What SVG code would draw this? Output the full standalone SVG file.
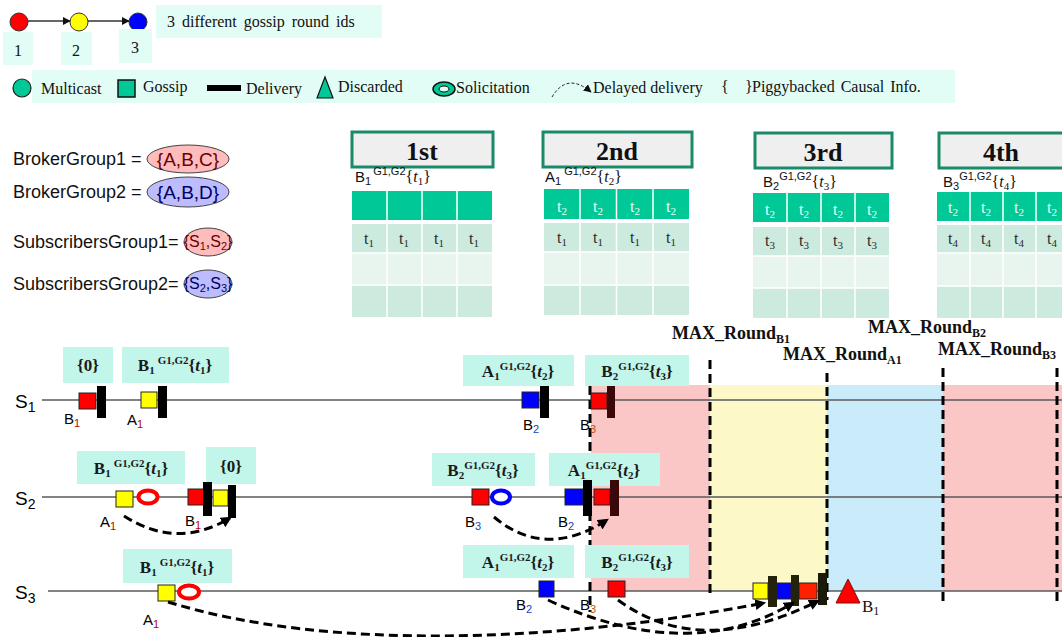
<svg xmlns="http://www.w3.org/2000/svg" width="1062" height="637" viewBox="0 0 1062 637">
<defs>
  <marker id="ah" viewBox="0 0 10 10" refX="8" refY="5" markerWidth="11" markerHeight="11" markerUnits="userSpaceOnUse" orient="auto">
    <path d="M0,0 L10,5 L0,10 z" fill="#000"/>
  </marker>
  <marker id="ahs" viewBox="0 0 10 10" refX="9" refY="5" markerWidth="8" markerHeight="8" markerUnits="userSpaceOnUse" orient="auto">
    <path d="M0,0 L10,5 L0,10 z" fill="#111"/>
  </marker>
</defs>
<style>
  .serif{font-family:"Liberation Serif","Times New Roman",serif}
  .sans{font-family:"Liberation Sans",Arial,sans-serif}
  .lgbox{fill:#e2fcf6}
  .box{fill:#c2f6ea}
  .lgt{font-family:"Liberation Serif","Times New Roman",serif;font-size:16px;fill:#111}
  .lbl{font-family:"Liberation Serif","Times New Roman",serif;font-size:17px;font-weight:bold;fill:#1a1a1a}
  .lbl .s{font-size:11px}
  .lbl .i{font-style:italic}
  .ev{font-family:"Liberation Sans",Arial,sans-serif;font-size:15px;fill:#000}
  .ev .s{font-size:11px}
  .sq{stroke:#222;stroke-width:1}
  .bar{fill:#000}
  .tl{stroke:#5a5a5a;stroke-width:1.6}
  .vline{stroke:#000;stroke-width:3;stroke-dasharray:9 5;fill:none}
  .curve{stroke:#000;stroke-width:3;stroke-dasharray:9 5;fill:none;marker-end:url(#ah)}
  .hdr{fill:#efefef;stroke:#1b8a6b;stroke-width:3}
  .hdrt{font-family:"Liberation Serif","Times New Roman",serif;font-size:26px;font-weight:bold;fill:#111;text-anchor:middle}
  .sub{font-family:"Liberation Sans",Arial,sans-serif;font-size:15px;fill:#111}
  .sub .s{font-size:11px}
  .sub .b{font-family:"Liberation Serif","Times New Roman",serif;font-size:16px}
  .g{fill:#00c997}
  .r2{fill:#cdeadf}
  .r3{fill:#e8f5ef}
  .cellw{font-family:"Liberation Serif","Times New Roman",serif;font-size:16px;fill:#e8fff8;text-anchor:middle}
  .celld{font-family:"Liberation Serif","Times New Roman",serif;font-size:16px;fill:#2a2a2a;text-anchor:middle}
  .sep{stroke:#fff;stroke-width:1.5}
  .grp{font-family:"Liberation Sans",Arial,sans-serif;font-size:18px;fill:#111}
  .set{font-family:"Liberation Sans",Arial,sans-serif;text-anchor:middle}
  .max{font-family:"Liberation Serif","Times New Roman",serif;font-size:18px;font-weight:bold;fill:#111}
  .max .s{font-size:12px}
</style>

<!-- round id legend -->
<g id="round-ids">
  <line x1="28" y1="21" x2="70" y2="21" stroke="#333" stroke-width="1.5" marker-end="url(#ahs)"/>
  <line x1="88" y1="21" x2="129" y2="21" stroke="#333" stroke-width="1.5" marker-end="url(#ahs)"/>
  <circle cx="19" cy="22" r="9" fill="#ff0000" stroke="#333" stroke-width="1"/>
  <circle cx="79" cy="22" r="9" fill="#ffff00" stroke="#333" stroke-width="1"/>
  <circle cx="138" cy="22" r="9" fill="#0000ff" stroke="#333" stroke-width="1"/>
  <rect x="3" y="32" width="30" height="33" class="lgbox"/>
  <rect x="61" y="32" width="31" height="33" class="lgbox"/>
  <rect x="119" y="29" width="33" height="34" class="lgbox"/>
  <text x="18" y="56" class="lgt" font-size="18" text-anchor="middle">1</text>
  <text x="76" y="56" class="lgt" font-size="18" text-anchor="middle">2</text>
  <text x="135" y="53" class="lgt" font-size="18" text-anchor="middle">3</text>
  <rect x="156" y="5" width="226" height="33" class="lgbox"/>
  <text x="167" y="27" class="lgt" font-size="17" word-spacing="3">3 different gossip round ids</text>
</g>

<!-- symbol legend -->
<g id="legend">
  <rect x="32" y="70" width="923" height="33" class="lgbox"/>
  <circle cx="22" cy="88" r="9" fill="#00c997" stroke="#222" stroke-width="1.2"/>
  <text x="41" y="94" class="lgt">Multicast</text>
  <rect x="118" y="80" width="17" height="17" fill="#00c997" stroke="#111" stroke-width="1.5"/>
  <text x="143" y="92" class="lgt">Gossip</text>
  <rect x="207" y="85" width="34" height="6" fill="#000"/>
  <text x="246" y="94" class="lgt">Delivery</text>
  <polygon points="317,98 325,77 333,98" fill="#00c997" stroke="#111" stroke-width="1.2"/>
  <text x="338" y="92" class="lgt">Discarded</text>
  <ellipse cx="444" cy="89" rx="11" ry="7" fill="#00c997" stroke="#111" stroke-width="1.5"/>
  <ellipse cx="444" cy="89" rx="5" ry="3" fill="#e2fcf6" stroke="#111" stroke-width="1"/>
  <text x="456" y="93" class="lgt">Solicitation</text>
  <path d="M552,97 Q567,72 591,92" stroke="#222" stroke-width="1" stroke-dasharray="3 2" fill="none" marker-end="url(#ahs)"/>
  <text x="593" y="93" class="lgt">Delayed delivery</text>
  <text x="721" y="92" class="lgt">{</text>
  <text x="745" y="92" class="lgt">}</text>
  <text x="752" y="92" class="lgt" word-spacing="2">Piggybacked Causal Info.</text>
</g>

<!-- groups -->
<g id="broker-group-1">
  <text x="13" y="165" class="grp">BrokerGroup1 =</text>
  <ellipse cx="188" cy="159" rx="41" ry="14" fill="#ffbcbc" stroke="#444" stroke-width="1"/>
  <text x="188" y="166" class="set" font-size="19" fill="#6a0000">{A,B,C}</text>
</g>
<g id="broker-group-2">
  <text x="13" y="198" class="grp">BrokerGroup2 =</text>
  <ellipse cx="188" cy="192" rx="41" ry="15" fill="#bcbcff" stroke="#444" stroke-width="1"/>
  <text x="188" y="199" class="set" font-size="19" fill="#000060">{A,B,D}</text>
</g>
<g id="subscribers-group-1">
  <text x="13" y="248" class="grp">SubscribersGroup1=</text>
  <ellipse cx="208" cy="242" rx="24" ry="14" fill="#ffbcbc" stroke="#444" stroke-width="1"/>
  <text x="208" y="247" class="set" font-size="16" fill="#6a0000">{S<tspan font-size="11" dy="3">1</tspan><tspan dy="-3">,S</tspan><tspan font-size="11" dy="3">2</tspan><tspan dy="-3">}</tspan></text>
</g>
<g id="subscribers-group-2">
  <text x="13" y="290" class="grp">SubscribersGroup2=</text>
  <ellipse cx="208" cy="284" rx="24" ry="14" fill="#bcbcff" stroke="#444" stroke-width="1"/>
  <text x="208" y="289" class="set" font-size="16" fill="#000060">{S<tspan font-size="11" dy="3">2</tspan><tspan dy="-3">,S</tspan><tspan font-size="11" dy="3">3</tspan><tspan dy="-3">}</tspan></text>
</g>

<!-- round tables -->
<g id="round-1st">
  <rect x="352" y="132" width="141" height="35" class="hdr"/>
  <text x="422" y="160" class="hdrt">1st</text>
  <text x="355" y="182" class="sub">B<tspan class="s" dy="3">1</tspan><tspan class="s" dy="-10" dx="2">G1,G2</tspan><tspan class="b" dy="7">{<tspan font-style="italic">t</tspan><tspan class="s" dy="3">1</tspan><tspan dy="-3">}</tspan></tspan></text>
  <rect x="352" y="191" width="140" height="29" class="g"/>
  <rect x="352" y="224" width="140" height="29" class="r2"/>
  <rect x="352" y="253" width="140" height="32" class="r3"/>
  <rect x="352" y="285" width="140" height="32" class="r2"/>
  <path d="M387,191V317M422,191V317M457,191V317M352,253H492M352,285H492" class="sep"/>
  <g class="celld"><text x="369" y="244">t<tspan font-size="11" dy="3">1</tspan></text><text x="404" y="244">t<tspan font-size="11" dy="3">1</tspan></text><text x="439" y="244">t<tspan font-size="11" dy="3">1</tspan></text><text x="474" y="244">t<tspan font-size="11" dy="3">1</tspan></text></g>
</g>
<g id="round-2nd">
  <rect x="543" y="132" width="149" height="35" class="hdr"/>
  <text x="617" y="160" class="hdrt">2nd</text>
  <text x="545" y="182" class="sub">A<tspan class="s" dy="3">1</tspan><tspan class="s" dy="-10" dx="3">G1,G2</tspan><tspan class="b" dy="7">{<tspan font-style="italic">t</tspan><tspan class="s" dy="3">2</tspan><tspan dy="-3">}</tspan></tspan></text>
  <rect x="544" y="189" width="145" height="30" class="g"/>
  <rect x="544" y="223" width="145" height="29" class="r2"/>
  <rect x="544" y="252" width="145" height="33" class="r3"/>
  <rect x="544" y="285" width="145" height="30" class="r2"/>
  <path d="M580,189V315M616.5,189V315M653,189V315M544,252H689M544,285H689" class="sep"/>
  <g class="cellw"><text x="562" y="212">t<tspan font-size="11" dy="3">2</tspan></text><text x="598" y="212">t<tspan font-size="11" dy="3">2</tspan></text><text x="635" y="212">t<tspan font-size="11" dy="3">2</tspan></text><text x="671" y="212">t<tspan font-size="11" dy="3">2</tspan></text></g>
  <g class="celld"><text x="562" y="243">t<tspan font-size="11" dy="3">1</tspan></text><text x="598" y="243">t<tspan font-size="11" dy="3">1</tspan></text><text x="635" y="243">t<tspan font-size="11" dy="3">1</tspan></text><text x="671" y="243">t<tspan font-size="11" dy="3">1</tspan></text></g>
</g>
<g id="round-3rd">
  <rect x="755" y="133" width="137" height="35" class="hdr"/>
  <text x="823" y="161" class="hdrt">3rd</text>
  <text x="763" y="187" class="sub">B<tspan class="s" dy="3">2</tspan><tspan class="s" dy="-10">G1,G2</tspan><tspan class="b" dy="7">{<tspan font-style="italic">t</tspan><tspan class="s" dy="3">3</tspan><tspan dy="-3">}</tspan></tspan></text>
  <rect x="753" y="193" width="136" height="29" class="g"/>
  <rect x="753" y="227" width="136" height="29" class="r2"/>
  <rect x="753" y="256" width="136" height="32" class="r3"/>
  <rect x="753" y="288" width="136" height="30" class="r2"/>
  <path d="M787,193V318M821,193V318M855,193V318M753,256H889M753,288H889" class="sep"/>
  <g class="cellw"><text x="770" y="215">t<tspan font-size="11" dy="3">2</tspan></text><text x="804" y="215">t<tspan font-size="11" dy="3">2</tspan></text><text x="838" y="215">t<tspan font-size="11" dy="3">2</tspan></text><text x="872" y="215">t<tspan font-size="11" dy="3">2</tspan></text></g>
  <g class="celld"><text x="770" y="246">t<tspan font-size="11" dy="3">3</tspan></text><text x="804" y="246">t<tspan font-size="11" dy="3">3</tspan></text><text x="838" y="246">t<tspan font-size="11" dy="3">3</tspan></text><text x="872" y="246">t<tspan font-size="11" dy="3">3</tspan></text></g>
</g>
<g id="round-4th">
  <rect x="939" y="133" width="130" height="35" class="hdr"/>
  <text x="1001" y="161" class="hdrt">4th</text>
  <text x="943" y="187" class="sub">B<tspan class="s" dy="3">3</tspan><tspan class="s" dy="-10">G1,G2</tspan><tspan class="b" dy="7">{<tspan font-style="italic">t</tspan><tspan class="s" dy="3">4</tspan><tspan dy="-3">}</tspan></tspan></text>
  <rect x="937" y="192" width="132" height="29" class="g"/>
  <rect x="937" y="225" width="132" height="28" class="r2"/>
  <rect x="937" y="253" width="132" height="33" class="r3"/>
  <rect x="937" y="286" width="132" height="32" class="r2"/>
  <path d="M970,192V318M1003,192V318M1036,192V318M937,253H1069M937,286H1069" class="sep"/>
  <g class="cellw"><text x="953" y="213">t<tspan font-size="11" dy="3">2</tspan></text><text x="986" y="213">t<tspan font-size="11" dy="3">2</tspan></text><text x="1019" y="213">t<tspan font-size="11" dy="3">2</tspan></text><text x="1052" y="213">t<tspan font-size="11" dy="3">2</tspan></text></g>
  <g class="celld"><text x="953" y="244">t<tspan font-size="11" dy="3">4</tspan></text><text x="986" y="244">t<tspan font-size="11" dy="3">4</tspan></text><text x="1019" y="244">t<tspan font-size="11" dy="3">4</tspan></text><text x="1052" y="244">t<tspan font-size="11" dy="3">4</tspan></text></g>
</g>

<!-- round bands -->
<g id="round-bands">
  <rect x="591" y="385" width="119" height="206" fill="#fbc6c6"/>
  <rect x="710" y="385" width="117" height="206" fill="#fcf8c8"/>
  <rect x="827" y="385" width="116" height="206" fill="#caebf9"/>
  <rect x="943" y="385" width="119" height="206" fill="#fbc6c6"/>
</g>

<!-- subscriber timelines -->
<g id="timelines">
  <line x1="42" y1="400" x2="1062" y2="400" class="tl"/>
  <line x1="42" y1="497" x2="1062" y2="497" class="tl"/>
  <line x1="48" y1="591" x2="1062" y2="591" class="tl"/>
  <text x="15" y="408" class="sans" font-size="19">S<tspan font-size="14" dy="4">1</tspan></text>
  <text x="15" y="505" class="sans" font-size="19">S<tspan font-size="14" dy="4">2</tspan></text>
  <text x="15" y="599" class="sans" font-size="19">S<tspan font-size="14" dy="4">3</tspan></text>
</g>

<!-- round limits -->
<g id="round-limits">
  <line x1="590" y1="386" x2="590" y2="612" class="vline"/>
  <line x1="710" y1="360" x2="710" y2="598" class="vline"/>
  <line x1="827" y1="373" x2="827" y2="600" class="vline"/>
  <line x1="943" y1="368" x2="943" y2="603" class="vline"/>
  <line x1="1057" y1="368" x2="1057" y2="603" class="vline"/>
  <text x="672" y="339" class="max">MAX_Round<tspan class="s" dy="4">B1</tspan></text>
  <text x="783" y="360" class="max">MAX_Round<tspan class="s" dy="4">A1</tspan></text>
  <text x="868" y="333" class="max">MAX_Round<tspan class="s" dy="4">B2</tspan></text>
  <text x="938" y="355" class="max">MAX_Round<tspan class="s" dy="4">B3</tspan></text>
</g>

<!-- S1 events -->
<g id="s1-b1">
  <rect x="63" y="347" width="50" height="36" class="box"/>
  <text x="88" y="371" class="lbl" text-anchor="middle" font-weight="normal">{0}</text>
  <rect x="79" y="393" width="17" height="16" fill="#ff0000" class="sq"/>
  <rect x="97" y="386" width="9" height="32" class="bar"/>
  <text x="64" y="424" class="ev">B<tspan class="s" dy="3" fill="#c00000">1</tspan></text>
</g>
<g id="s1-a1">
  <rect x="122" y="347" width="107" height="36" class="box"/>
  <text x="175" y="371" class="lbl" text-anchor="middle">B<tspan class="s" dy="3">1</tspan><tspan class="s" dy="-10" dx="3">G1,G2</tspan><tspan dy="7">{<tspan class="i">t</tspan><tspan class="s" dy="3">1</tspan><tspan dy="-3">}</tspan></tspan></text>
  <rect x="141" y="392" width="16" height="16" fill="#ffff00" class="sq"/>
  <rect x="158" y="386" width="9" height="32" class="bar"/>
  <text x="127" y="425" class="ev">A<tspan class="s" dy="3" fill="#c00000">1</tspan></text>
</g>
<g id="s1-b2">
  <rect x="463" y="355" width="111" height="31" class="box"/>
  <text x="518" y="377" class="lbl" text-anchor="middle">A<tspan class="s" dy="3">1</tspan><tspan class="s" dy="-10">G1,G2</tspan><tspan dy="7">{<tspan class="i">t</tspan><tspan class="s" dy="3">2</tspan><tspan dy="-3">}</tspan></tspan></text>
  <rect x="522" y="392" width="17" height="16" fill="#0000ff" class="sq"/>
  <rect x="540" y="386" width="9" height="32" class="bar"/>
  <text x="523" y="430" class="ev">B<tspan class="s" dy="3" fill="#2040c0">2</tspan></text>
</g>
<g id="s1-b3">
  <rect x="585" y="355" width="104" height="31" class="box"/>
  <text x="637" y="377" class="lbl" text-anchor="middle">B<tspan class="s" dy="3">2</tspan><tspan class="s" dy="-10">G1,G2</tspan><tspan dy="7">{<tspan class="i">t</tspan><tspan class="s" dy="3">3</tspan><tspan dy="-3">}</tspan></tspan></text>
  <rect x="591" y="393" width="16" height="16" fill="#ff0000" class="sq"/>
  <rect x="607" y="386" width="8" height="32" fill="#3a0808"/>
  <text x="580" y="430" class="ev">B<tspan class="s" dy="3" fill="#c05010">3</tspan></text>
</g>

<!-- S2 events -->
<g id="s2-a1">
  <rect x="77" y="451" width="108" height="33" class="box"/>
  <text x="131" y="474" class="lbl" text-anchor="middle">B<tspan class="s" dy="3">1</tspan><tspan class="s" dy="-10" dx="3">G1,G2</tspan><tspan dy="7">{<tspan class="i">t</tspan><tspan class="s" dy="3">1</tspan><tspan dy="-3">}</tspan></tspan></text>
  <rect x="116" y="491" width="17" height="16" fill="#ffff00" class="sq"/>
  <ellipse cx="148" cy="497" rx="9.5" ry="6.5" fill="#fff" stroke="#ff0000" stroke-width="4"/>
  <text x="100" y="527" class="ev">A<tspan class="s" dy="3" fill="#c00000">1</tspan></text>
</g>
<g id="s2-b1">
  <rect x="206" y="447" width="50" height="37" class="box"/>
  <text x="231" y="472" class="lbl" text-anchor="middle" font-weight="normal">{0}</text>
  <rect x="188" y="489" width="17" height="16" fill="#ff0000" class="sq"/>
  <rect x="203" y="482" width="9" height="34" class="bar"/>
  <rect x="213" y="490" width="15" height="16" fill="#ffff00" class="sq"/>
  <rect x="228" y="485" width="8" height="33" class="bar"/>
  <text x="185" y="526" class="ev">B<tspan class="s" dy="3" fill="#c00000">1</tspan></text>
</g>
<g id="s2-b3">
  <rect x="432" y="453" width="103" height="33" class="box"/>
  <text x="483" y="476" class="lbl" text-anchor="middle">B<tspan class="s" dy="3">2</tspan><tspan class="s" dy="-10">G1,G2</tspan><tspan dy="7">{<tspan class="i">t</tspan><tspan class="s" dy="3">3</tspan><tspan dy="-3">}</tspan></tspan></text>
  <rect x="472" y="489" width="17" height="16" fill="#ff0000" class="sq"/>
  <ellipse cx="501" cy="497" rx="9" ry="6.5" fill="#fff" stroke="#0000ff" stroke-width="4"/>
  <text x="465" y="527" class="ev">B<tspan class="s" dy="3" fill="#2040c0">3</tspan></text>
</g>
<g id="s2-b2">
  <rect x="549" y="453" width="111" height="33" class="box"/>
  <text x="604" y="476" class="lbl" text-anchor="middle">A<tspan class="s" dy="3">1</tspan><tspan class="s" dy="-10">G1,G2</tspan><tspan dy="7">{<tspan class="i">t</tspan><tspan class="s" dy="3">2</tspan><tspan dy="-3">}</tspan></tspan></text>
  <rect x="565" y="489" width="18" height="16" fill="#0000ff" class="sq"/>
  <rect x="583" y="480" width="9" height="36" class="bar"/>
  <rect x="594" y="489" width="16" height="16" fill="#ff0000" class="sq"/>
  <rect x="610" y="480" width="9" height="36" fill="#3a0808"/>
  <text x="558" y="527" class="ev">B<tspan class="s" dy="3" fill="#2040c0">2</tspan></text>
</g>

<!-- S3 events -->
<g id="s3-a1">
  <rect x="123" y="549" width="109" height="34" class="box"/>
  <text x="177" y="573" class="lbl" text-anchor="middle">B<tspan class="s" dy="3">1</tspan><tspan class="s" dy="-10" dx="3">G1,G2</tspan><tspan dy="7">{<tspan class="i">t</tspan><tspan class="s" dy="3">1</tspan><tspan dy="-3">}</tspan></tspan></text>
  <rect x="158" y="585" width="17" height="16" fill="#ffff00" class="sq"/>
  <ellipse cx="189" cy="592" rx="10" ry="6.5" fill="#fff" stroke="#ff0000" stroke-width="4"/>
  <text x="143" y="625" class="ev">A<tspan class="s" dy="3" fill="#c00000">1</tspan></text>
</g>
<g id="s3-b2">
  <rect x="463" y="545" width="111" height="33" class="box"/>
  <text x="518" y="568" class="lbl" text-anchor="middle">A<tspan class="s" dy="3">1</tspan><tspan class="s" dy="-10">G1,G2</tspan><tspan dy="7">{<tspan class="i">t</tspan><tspan class="s" dy="3">2</tspan><tspan dy="-3">}</tspan></tspan></text>
  <rect x="539" y="581" width="15" height="16" fill="#0000ff" class="sq"/>
  <text x="516" y="610" class="ev">B<tspan class="s" dy="3" fill="#2040c0">2</tspan></text>
</g>
<g id="s3-b3">
  <rect x="585" y="545" width="104" height="33" class="box"/>
  <text x="637" y="568" class="lbl" text-anchor="middle">B<tspan class="s" dy="3">2</tspan><tspan class="s" dy="-10">G1,G2</tspan><tspan dy="7">{<tspan class="i">t</tspan><tspan class="s" dy="3">3</tspan><tspan dy="-3">}</tspan></tspan></text>
  <rect x="608" y="581" width="17" height="16" fill="#ff0000" class="sq"/>
  <text x="580" y="610" class="ev">B<tspan class="s" dy="3" fill="#c05010">3</tspan></text>
</g>
<g id="s3-delivery">
  <rect x="753" y="583" width="15" height="16" fill="#ffff00" class="sq"/>
  <rect x="768" y="576" width="9" height="31" fill="#24220a"/>
  <rect x="777" y="583" width="14" height="16" fill="#0000ff" class="sq"/>
  <rect x="791" y="575" width="8" height="31" fill="#24220a"/>
  <rect x="799" y="583" width="18" height="16" fill="#ff2000" class="sq"/>
  <rect x="818" y="573" width="9" height="32" fill="#1a1a0a"/>
</g>
<g id="s3-b1-discarded">
  <polygon points="848,579 836,603 860,603" fill="#ff0000" stroke="#7a1010" stroke-width="1"/>
  <text x="862" y="612" class="serif" font-size="17" fill="#111">B<tspan font-size="12" dy="3">1</tspan></text>
</g>

<!-- delayed deliveries -->
<g id="connectors">
  <path d="M124,516 Q177,550 230,518" class="curve"/>
  <path d="M494,517 Q545,560 607,520" class="curve"/>
  <path d="M168,602 C330,652 560,642 764,603" class="curve"/>
  <path d="M548,600 Q690,665 793,603" class="curve"/>
  <path d="M618,600 Q700,660 818,601" class="curve"/>
</g>
</svg>
